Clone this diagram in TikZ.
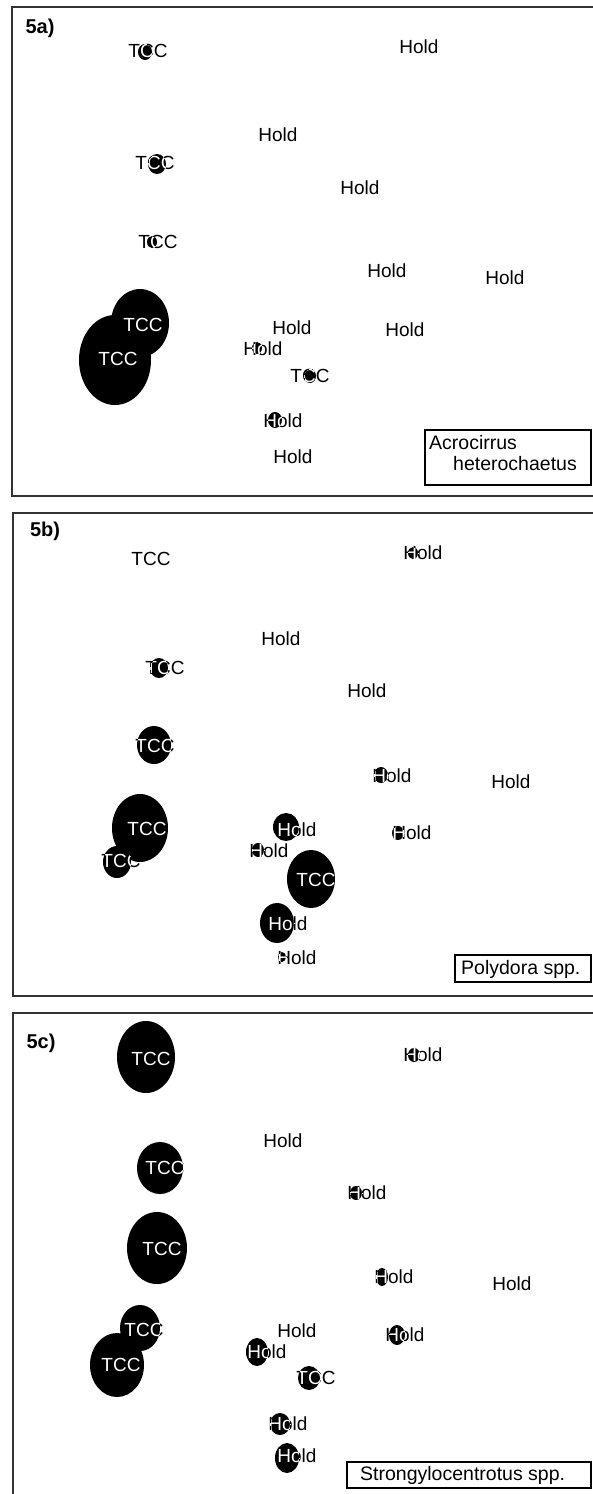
\documentclass[tikz,border=0pt]{standalone}
\usepackage{fontspec}
\setmainfont{Liberation Sans}
\newcommand\labfont{\fontsize{19}{19}\selectfont}
\newcommand\legfont{\fontsize{19.5}{19.5}\selectfont}
\newcommand\panfont{\fontsize{20}{20}\selectfont\bfseries}
\newcommand\bubpt[8]{%
  \fill[black] (#5,#6) ellipse [x radius=#7, y radius=#8];
  \node[lab] (#1) at (#2,#3) {#4};
  \begin{scope}
    \clip (#5,#6) ellipse [x radius=#7, y radius=#8];
    \node[lab,white] (#1w) at (#2,#3) {#4};
  \end{scope}}
\begin{document}
\begin{tikzpicture}[x=1pt,y=-1pt,
  lab/.style={font=\labfont,inner sep=0pt,text=black},
  frame/.style={draw=black!80,line width=2pt},
  legbox/.style={draw=black,line width=1.2pt,inner sep=0pt},
  legtext/.style={font=\legfont,inner sep=0pt,anchor=west},
  pan/.style={font=\panfont,inner sep=0pt}]
\useasboundingbox (0,0) rectangle (592,1494);
\fill[white] (0,0) rectangle (592,1494);
% ---------- panel a ----------
\draw[frame] (593,7) -- (12,7) -- (12,496) -- (593,496);
\node[pan] (pa) at (40,28) {5a)};
\bubpt{a1}{148}{51}{TCC}{145}{52}{7}{8}
\node[lab] (a2) at (419,47) {Hold};
\node[lab] (a3) at (278,135) {Hold};
\bubpt{a4}{155}{163}{TCC}{157}{164}{9}{10}
\node[lab] (a5) at (360,188) {Hold};
\bubpt{a6}{158}{242}{TCC}{152}{242}{5}{6}
\node[lab] (a7) at (387,271) {Hold};
\node[lab] (a8) at (505,278) {Hold};
\node[lab] (a9) at (292,328) {Hold};
\node[lab] (a10) at (405,330) {Hold};
\fill[black] (115,360) ellipse [x radius=36, y radius=45];
\fill[black] (140,323) ellipse [x radius=29, y radius=34];
\node[lab,white] (a12) at (118,359) {TCC};
\node[lab,white] (a11) at (143,325) {TCC};
\bubpt{a13}{263}{349}{Hold}{257}{348}{5}{6}
\bubpt{a14}{310}{376}{TCC}{310}{376}{6}{7}
\bubpt{a15}{283}{421}{Hold}{275}{420}{7}{8}
\node[lab] (a16) at (293,457) {Hold};
\draw[legbox] (425,430) rectangle (591,485);
\node[legtext] (la1) at (429,443) {Acrocirrus};
\node[legtext] (la2) at (453,464) {heterochaetus};
% ---------- panel b ----------
\draw[frame] (593,513) -- (13,513) -- (13,996) -- (593,996);
\node[pan] (pb) at (45,531) {5b)};
\node[lab] (b1) at (151,559) {TCC};
\bubpt{b2}{423}{553}{Hold}{413}{553}{5}{6}
\node[lab] (b3) at (281,639) {Hold};
\bubpt{b4}{165}{668}{TCC}{159}{668}{9}{10}
\node[lab] (b5) at (367,691) {Hold};
\bubpt{b6}{155}{746}{TCC}{154}{745}{17}{19}
\bubpt{b7}{392}{776}{Hold}{381}{775}{7}{8}
\node[lab] (b8) at (511,782) {Hold};
\bubpt{b9}{297}{830}{Hold}{286}{827}{13}{14}
\bubpt{b10}{412}{833}{Hold}{398}{833}{6}{7}
\bubpt{b11}{147}{829}{TCC}{140}{828}{28}{34}
\bubpt{b12}{121}{861}{TCC}{117}{862}{14}{16}
\bubpt{b13}{269}{851}{Hold}{258}{850}{6}{7}
\bubpt{b14}{316}{880}{TCC}{311}{879}{24}{29}
\bubpt{b15}{288}{924}{Hold}{277}{923}{17}{20}
\bubpt{b16}{297}{958}{Hold}{282}{957}{4}{5}
\draw[legbox] (455,955) rectangle (591,982);
\node[legtext] (lb) at (461,969) {Polydora spp.};
% ---------- panel c ----------
\draw[frame] (593,1013) -- (13,1013) -- (13,1495);
\node[pan] (pc) at (41,1043) {5c)};
\bubpt{c1}{151}{1059}{TCC}{146}{1057}{29}{36}
\bubpt{c2}{423}{1055}{Hold}{414}{1055}{6}{7}
\node[lab] (c3) at (283,1141) {Hold};
\bubpt{c4}{165}{1168}{TCC}{160}{1168}{23}{26}
\bubpt{c5}{367}{1193}{Hold}{356}{1193}{6}{7}
\bubpt{c6}{162}{1249}{TCC}{157}{1248}{30}{36}
\bubpt{c7}{394}{1277}{Hold}{382}{1277}{6}{9}
\node[lab] (c8) at (512,1284) {Hold};
\node[lab] (c9) at (297,1331) {Hold};
\bubpt{c10}{405}{1335}{Hold}{397}{1335}{8}{10}
\bubpt{c11}{144}{1330}{TCC}{140}{1328}{20}{23}
\bubpt{c12}{121}{1365}{TCC}{117}{1365}{27}{32}
\bubpt{c13}{267}{1352}{Hold}{257}{1352}{11}{14}
\bubpt{c14}{316}{1378}{TCC}{309}{1378}{11}{12}
\bubpt{c15}{288}{1424}{Hold}{280}{1424}{10}{11}
\bubpt{c16}{297}{1456}{Hold}{287}{1458}{12}{15}
\draw[legbox] (347,1462) rectangle (591,1488);
\node[legtext] (lc) at (360,1475) {Strongylocentrotus spp.};
\end{tikzpicture}
\end{document}
